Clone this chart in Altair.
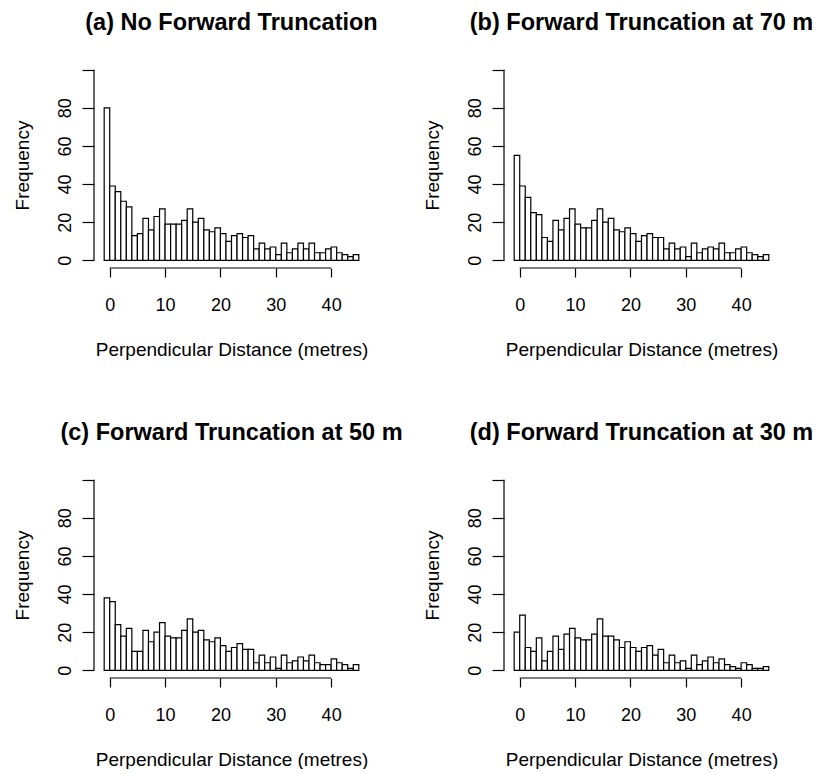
import altair as alt
import pandas as pd

# Histogram bins: 1 m wide, from -1 to 45
bin_starts = list(range(-1, 45))

counts_a = [80, 39, 36, 31, 28, 13, 14, 22, 16, 23, 27, 19, 19, 19, 21, 27, 20, 22, 16, 15,
            17, 14, 10, 13, 14, 12, 13, 6, 9, 6, 7, 3, 9, 4, 6, 9, 6, 9, 4, 4,
            6, 7, 4, 3, 2, 3]
counts_b = [55, 39, 33, 25, 24, 12, 10, 21, 16, 22, 27, 19, 17, 17, 21, 27, 20, 22, 16, 15,
            17, 14, 10, 13, 14, 12, 12, 6, 9, 6, 7, 2, 9, 4, 6, 7, 6, 9, 4, 4,
            6, 7, 4, 3, 2, 3]
counts_c = [38, 36, 24, 18, 22, 10, 10, 21, 15, 20, 25, 18, 17, 17, 21, 27, 20, 21, 16, 15,
            17, 13, 10, 12, 14, 11, 11, 4, 8, 4, 7, 1, 8, 4, 5, 7, 5, 8, 4, 3,
            3, 6, 4, 3, 1, 3]
counts_d = [20, 29, 12, 10, 17, 5, 10, 18, 11, 19, 22, 17, 16, 16, 19, 27, 18, 18, 16, 12,
            15, 12, 10, 12, 13, 8, 11, 4, 8, 4, 5, 1, 8, 3, 5, 7, 4, 6, 3, 2,
            1, 4, 3, 1, 1, 2]

titles = ["(a) No Forward Truncation", "(b) Forward Truncation at 70 m",
          "(c) Forward Truncation at 50 m", "(d) Forward Truncation at 30 m"]

x_ticks = [0, 10, 20, 30, 40]
y_ticks = [0, 20, 40, 60, 80, 100]
x_title = "Perpendicular Distance (metres)"
y_title = "Frequency"

X_DOMAIN = [-2.84, 46.84]
Y_DOMAIN = [-4, 104]
FONT = "Liberation Sans"

x_axis = alt.Axis(values=x_ticks, domain=False, grid=False, tickSize=9,
                  tickColor="black", tickWidth=1.2, labelFont=FONT,
                  labelFontSize=18, labelColor="black", labelPadding=19,
                  labelOverlap=False, title=x_title, titleFont=FONT,
                  titleFontSize=19, titleFontWeight="normal",
                  titleColor="black", titlePadding=26)
y_axis = alt.Axis(values=y_ticks, domain=False, grid=False, tickSize=12,
                  tickColor="black", tickWidth=1.2, labelFont=FONT,
                  labelFontSize=18, labelColor="black", labelPadding=8,
                  labelAngle=270, labelAlign="center", labelBaseline="bottom",
                  labelOverlap=False,
                  labelExpr="datum.value == 100 ? '' : datum.label",
                  title=y_title, titleFont=FONT, titleFontSize=19,
                  titleFontWeight="normal", titleColor="black",
                  titlePadding=24)


def panel(title, counts):
    df = pd.DataFrame({"start": bin_starts,
                       "end": [s + 1 for s in bin_starts],
                       "count": counts,
                       "zero": [0] * len(bin_starts)})
    xs = alt.Scale(domain=X_DOMAIN, nice=False, zero=False)
    ys = alt.Scale(domain=Y_DOMAIN, nice=False, zero=False)
    bars = alt.Chart(df).mark_rect(fill="white", stroke="black", strokeWidth=1.2).encode(
        x=alt.X("start:Q", scale=xs, axis=x_axis),
        x2="end:Q",
        y=alt.Y("count:Q", scale=ys, axis=y_axis),
        y2="zero:Q",
    )
    xline_df = pd.DataFrame({"a": [x_ticks[0]], "b": [x_ticks[-1]], "yb": [Y_DOMAIN[0]]})
    xline = alt.Chart(xline_df).mark_rule(color="black", strokeWidth=1.2).encode(
        x=alt.X("a:Q", scale=xs, axis=x_axis),
        x2="b:Q",
        y=alt.Y("yb:Q", scale=ys, axis=y_axis),
    )
    yline_df = pd.DataFrame({"a": [y_ticks[0]], "b": [y_ticks[-1]], "xl": [X_DOMAIN[0]]})
    yline = alt.Chart(yline_df).mark_rule(color="black", strokeWidth=1.2).encode(
        y=alt.Y("a:Q", scale=ys, axis=y_axis),
        y2="b:Q",
        x=alt.X("xl:Q", scale=xs, axis=x_axis),
    )
    return alt.layer(bars, xline, yline).properties(
        width=275, height=206,
        title=alt.TitleParams(text=title, font=FONT, fontSize=23.5, fontWeight="bold",
                              color="black", anchor="middle", offset=28),
    )


panels = [panel(t, c) for t, c in zip(titles, [counts_a, counts_b, counts_c, counts_d])]

chart = alt.concat(*panels, columns=2, spacing={"row": 204, "column": 135},
                   bounds="flush").properties(
    padding={"left": 12, "top": 10, "right": 0, "bottom": 0},
    background="white",
).configure_view(strokeWidth=0)

chart.save("out.html", embed_options={"renderer": "svg", "actions": False})
